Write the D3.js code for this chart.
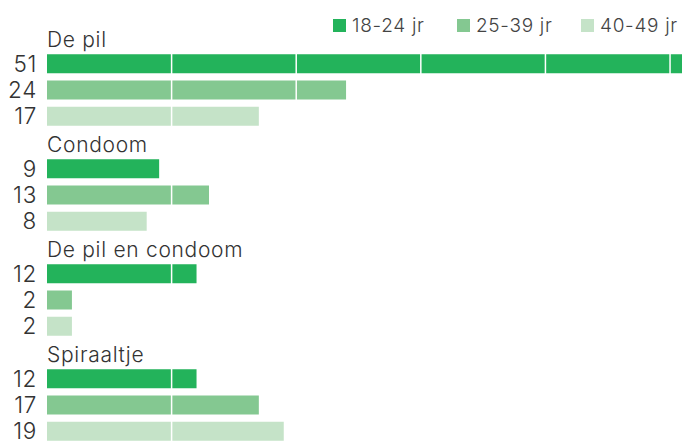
<!DOCTYPE html>
<html>
<head>
    <meta charset='utf-8'>
    <title>Anticonceptie</title>
    <script src='https://cdn.jsdelivr.net/npm/d3@7'></script>
    <style>
        body { margin: 0; background: #fff; }
        text { font-family: Inter, 'Open Sans', sans-serif; font-weight: 300; letter-spacing: 0.7px; }
    </style>
</head>
<body>
    <svg width='682' height='441'></svg>
    <script>
        const categories = ['De pil', 'Condoom', 'De pil en condoom', 'Spiraaltje']
        const series = ['18-24 jr', '25-39 jr', '40-49 jr']
        const values18 = [51, 9, 12, 12]
        const values25 = [24, 13, 2, 17]
        const values40 = [17, 8, 2, 19]
        const gridTicks = [10, 20, 30, 40, 50]
        const colors = ['#23b35b', '#84c891', '#c5e3c8']

        const svg = d3.select('svg')
        const valuesBySeries = [values18, values25, values40]

        // one header row plus three bar rows per category
        const rows = []
        categories.forEach((c, ci) => {
            rows.push({ id: c + '-h', type: 'head', label: c })
            series.forEach((s, si) => {
                rows.push({ id: c + '-' + si, type: 'bar', value: valuesBySeries[si][ci], si })
            })
        })

        const x = d3.scaleLinear().domain([0, 51]).range([47, 682.5])
        const y = d3.scaleBand().domain(rows.map(r => r.id)).range([28, 28 + 16 * 26.25]).padding(0)
        const barH = 19

        const g = svg.append('g')

        const bars = rows.filter(r => r.type === 'bar')
        g.selectAll('rect.bar')
            .data(bars)
            .enter()
            .append('rect')
            .attr('class', 'bar')
            .attr('x', x(0))
            .attr('y', d => y(d.id))
            .attr('width', d => x(d.value) - x(0))
            .attr('height', barH)
            .attr('fill', d => colors[d.si])

        g.selectAll('text.val')
            .data(bars)
            .enter()
            .append('text')
            .attr('class', 'val')
            .attr('x', 37)
            .attr('y', d => y(d.id) + barH - 1.5)
            .attr('text-anchor', 'end')
            .attr('font-size', 22.5)
            .attr('fill', '#333')
            .text(d => d.value)

        g.selectAll('text.head')
            .data(rows.filter(r => r.type === 'head'))
            .enter()
            .append('text')
            .attr('class', 'head')
            .attr('x', x(0))
            .attr('y', d => y(d.id) + 18.5)
            .attr('font-size', 21)
            .attr('fill', '#333')
            .text(d => d.label)

        // white gridlines on top of the bars
        g.selectAll('line.grid')
            .data(gridTicks)
            .enter()
            .append('line')
            .attr('x1', d => x(d))
            .attr('x2', d => x(d))
            .attr('y1', 28)
            .attr('y2', 441)
            .attr('stroke', '#fff')
            .attr('stroke-width', 1.5)

        const legendX = [333, 457, 581]
        const legend = svg.append('g')
            .selectAll('g')
            .data(series)
            .enter()
            .append('g')
            .attr('transform', (d, i) => `translate(${legendX[i]},19)`)
        legend.append('rect')
            .attr('width', 13)
            .attr('height', 13)
            .attr('fill', (d, i) => colors[i])
        legend.append('text')
            .attr('x', 19)
            .attr('y', 13)
            .attr('font-size', 19)
            .attr('fill', '#444')
            .text(d => d)
    </script>
</body>
</html>
